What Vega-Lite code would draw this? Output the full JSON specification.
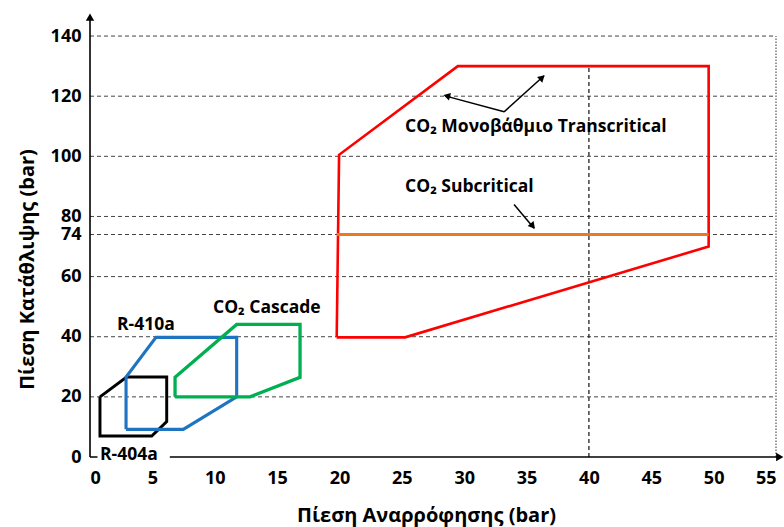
{
  "$schema": "https://vega.github.io/schema/vega-lite/v6.json",
  "width": 686,
  "height": 445,
  "autosize": {"type": "none"},
  "padding": {"left": 90, "top": 12, "right": 8, "bottom": 70},
  "background": "white",
  "config": {"view": {"stroke": null}, "font": "Open Sans"},
  "layer": [
    {
      "data": {"values": [{"y": 20}, {"y": 40}, {"y": 60}, {"y": 74}, {"y": 80}, {"y": 100}, {"y": 120}, {"y": 140}]},
      "mark": {"type": "rule", "strokeDash": [4, 3], "color": "#444", "strokeWidth": 1},
      "encoding": {
        "y": {
          "field": "y", "type": "quantitative",
          "scale": {"domain": [0, 148], "nice": false, "zero": false},
          "axis": {
            "title": "Πίεση Κατάθλιψης (bar)",
            "values": [0, 20, 40, 60, 74, 80, 100, 120, 140],
            "domain": false, "ticks": false, "grid": false,
            "labelFont": "Open Sans", "labelFontWeight": "bold", "labelFontSize": 18, "labelColor": "#000",
            "labelPadding": 9,
            "titleFont": "Open Sans", "titleFontWeight": "bold", "titleFontSize": 20, "titleColor": "#000",
            "titleBaseline": "middle", "titleX": -63, "titleY": 257
          }
        },
        "x": {
          "datum": 0, "type": "quantitative",
          "scale": {"domain": [0, 55], "nice": false, "zero": false},
          "axis": {
            "title": "Πίεση Αναρρόφησης (bar)",
            "values": [0, 5, 10, 15, 20, 25, 30, 35, 40, 45, 50, 55],
            "domain": false, "ticks": false, "grid": false,
            "labelFont": "Open Sans", "labelFontWeight": "bold", "labelFontSize": 18, "labelColor": "#000",
            "labelPadding": 12,
            "titleFont": "Open Sans", "titleFontWeight": "bold", "titleFontSize": 20, "titleColor": "#000",
            "titleBaseline": "middle", "titleX": 336, "titleY": 58
          }
        },
        "x2": {"datum": 55}
      }
    },
    {
      "data": {"values": [{"x": 40, "y": 0, "y2": 130}]},
      "mark": {"type": "rule", "strokeDash": [4, 3], "color": "#222", "strokeWidth": 1.3},
      "encoding": {
        "x": {"field": "x", "type": "quantitative"},
        "y": {"field": "y", "type": "quantitative"},
        "y2": {"field": "y2"}
      }
    },
    {
      "data": {"values": [{"x": 55, "y": 0, "y2": 140}]},
      "mark": {"type": "rule", "strokeDash": [1.5, 1.5], "color": "#333", "strokeWidth": 1},
      "encoding": {
        "x": {"field": "x", "type": "quantitative"},
        "y": {"field": "y", "type": "quantitative"},
        "y2": {"field": "y2"}
      }
    },
    {
      "data": {"values": [
        {"series": "CO2 Transcritical", "order": 1, "x": 19.78, "y": 39.8},
        {"series": "CO2 Transcritical", "order": 2, "x": 25.26, "y": 39.8},
        {"series": "CO2 Transcritical", "order": 3, "x": 49.6, "y": 70},
        {"series": "CO2 Transcritical", "order": 4, "x": 49.6, "y": 130},
        {"series": "CO2 Transcritical", "order": 5, "x": 29.49, "y": 130},
        {"series": "CO2 Transcritical", "order": 6, "x": 19.97, "y": 100.5},
        {"series": "CO2 Transcritical", "order": 7, "x": 19.78, "y": 39.8},
        {"series": "CO2 Subcritical", "order": 1, "x": 19.8, "y": 74},
        {"series": "CO2 Subcritical", "order": 2, "x": 49.6, "y": 74},
        {"series": "R-404a", "order": 1, "x": 0.8, "y": 20},
        {"series": "R-404a", "order": 2, "x": 0.8, "y": 7},
        {"series": "R-404a", "order": 3, "x": 4.95, "y": 7},
        {"series": "R-404a", "order": 4, "x": 6.15, "y": 11.8},
        {"series": "R-404a", "order": 5, "x": 6.15, "y": 26.6},
        {"series": "R-404a", "order": 6, "x": 2.94, "y": 26.6},
        {"series": "R-404a", "order": 7, "x": 0.8, "y": 20},
        {"series": "R-410a", "order": 1, "x": 2.89, "y": 9.2},
        {"series": "R-410a", "order": 2, "x": 7.48, "y": 9.2},
        {"series": "R-410a", "order": 3, "x": 11.76, "y": 20},
        {"series": "R-410a", "order": 4, "x": 11.76, "y": 39.8},
        {"series": "R-410a", "order": 5, "x": 5.29, "y": 39.8},
        {"series": "R-410a", "order": 6, "x": 2.89, "y": 26.6},
        {"series": "R-410a", "order": 7, "x": 2.89, "y": 9.2},
        {"series": "CO2 Cascade", "order": 1, "x": 6.82, "y": 20},
        {"series": "CO2 Cascade", "order": 2, "x": 12.83, "y": 20},
        {"series": "CO2 Cascade", "order": 3, "x": 16.84, "y": 26.5},
        {"series": "CO2 Cascade", "order": 4, "x": 16.84, "y": 44.1},
        {"series": "CO2 Cascade", "order": 5, "x": 11.76, "y": 44.1},
        {"series": "CO2 Cascade", "order": 6, "x": 6.82, "y": 26.5},
        {"series": "CO2 Cascade", "order": 7, "x": 6.82, "y": 20}
      ]},
      "mark": {"type": "line", "strokeJoin": "miter"},
      "encoding": {
        "x": {"field": "x", "type": "quantitative"},
        "y": {"field": "y", "type": "quantitative"},
        "order": {"field": "order", "type": "quantitative"},
        "color": {
          "field": "series", "type": "nominal", "legend": null,
          "scale": {
            "domain": ["CO2 Transcritical", "CO2 Subcritical", "R-404a", "R-410a", "CO2 Cascade"],
            "range": ["#FF0000", "#E97A24", "#000000", "#1F74C2", "#00B050"]
          }
        },
        "strokeWidth": {
          "field": "series", "type": "nominal", "legend": null,
          "scale": {
            "domain": ["CO2 Transcritical", "CO2 Subcritical", "R-404a", "R-410a", "CO2 Cascade"],
            "range": [2.6, 3.3, 2.6, 3.1, 2.6]
          }
        }
      }
    },
    {
      "data": {"values": [
        {"label": "R-410a", "x": 2.17, "y": 43.9},
        {"label": "CO₂ Cascade", "x": 9.86, "y": 49.6},
        {"label": "CO₂ Μονοβάθμιο Transcritical", "x": 25.26, "y": 109.7},
        {"label": "CO₂ Subcritical", "x": 25.26, "y": 89.8}
      ]},
      "mark": {"type": "text", "align": "left", "baseline": "middle", "font": "Open Sans", "fontWeight": "bold", "fontSize": 17.5, "color": "#000"},
      "encoding": {
        "x": {"field": "x", "type": "quantitative"},
        "y": {"field": "y", "type": "quantitative"},
        "text": {"field": "label"}
      }
    },
    {
      "data": {"values": [
        {"x": 33.2, "y": 114.8, "x2": 28.47, "y2": 120.1},
        {"x": 33.2, "y": 114.8, "x2": 36.4, "y2": 126.8},
        {"x": 34.0, "y": 84.0, "x2": 35.6, "y2": 76.1}
      ]},
      "mark": {"type": "rule", "color": "#000", "strokeWidth": 1.5},
      "encoding": {
        "x": {"field": "x", "type": "quantitative"},
        "y": {"field": "y", "type": "quantitative"},
        "x2": {"field": "x2"},
        "y2": {"field": "y2"}
      }
    },
    {
      "data": {"values": [{"x": 28.6, "y": 120.1}]},
      "mark": {"type": "point", "shape": "triangle-up", "filled": true, "color": "#000", "size": 60, "angle": 285, "opacity": 1},
      "encoding": {"x": {"field": "x", "type": "quantitative"}, "y": {"field": "y", "type": "quantitative"}}
    },
    {
      "data": {"values": [{"x": 36.25, "y": 126.2}]},
      "mark": {"type": "point", "shape": "triangle-up", "filled": true, "color": "#000", "size": 60, "angle": 48, "opacity": 1},
      "encoding": {"x": {"field": "x", "type": "quantitative"}, "y": {"field": "y", "type": "quantitative"}}
    },
    {
      "data": {"values": [{"x": 35.5, "y": 76.8}]},
      "mark": {"type": "point", "shape": "triangle-up", "filled": true, "color": "#000", "size": 60, "angle": 140, "opacity": 1},
      "encoding": {"x": {"field": "x", "type": "quantitative"}, "y": {"field": "y", "type": "quantitative"}}
    },
    {
      "data": {"values": [{"x": 0, "y": 0, "x2": 55.3, "y2": 0}, {"x": 0, "y": 0, "x2": 0, "y2": 146}]},
      "mark": {"type": "rule", "color": "#000", "strokeWidth": 1.6},
      "encoding": {
        "x": {"field": "x", "type": "quantitative"},
        "y": {"field": "y", "type": "quantitative"},
        "x2": {"field": "x2"},
        "y2": {"field": "y2"}
      }
    },
    {
      "data": {"values": [{"x": 0, "y": 146.3}]},
      "mark": {"type": "point", "shape": "triangle-up", "filled": true, "color": "#000", "size": 70, "opacity": 1},
      "encoding": {"x": {"field": "x", "type": "quantitative"}, "y": {"field": "y", "type": "quantitative"}}
    },
    {
      "data": {"values": [{"x": 55.3, "y": 0}]},
      "mark": {"type": "point", "shape": "triangle-right", "filled": true, "color": "#000", "size": 70, "opacity": 1},
      "encoding": {"x": {"field": "x", "type": "quantitative"}, "y": {"field": "y", "type": "quantitative"}}
    },
    {
      "data": {"values": [{"x": 0.6, "x2": 6.4, "y": -3, "y2": 3}]},
      "mark": {"type": "rect", "color": "white"},
      "encoding": {
        "x": {"field": "x", "type": "quantitative"},
        "x2": {"field": "x2"},
        "y": {"field": "y", "type": "quantitative"},
        "y2": {"field": "y2"}
      }
    },
    {
      "data": {"values": [{"label": "R-404a", "x": 0.8, "y": 0.5}]},
      "mark": {"type": "text", "align": "left", "baseline": "middle", "font": "Open Sans", "fontWeight": "bold", "fontSize": 17.5, "color": "#000"},
      "encoding": {
        "x": {"field": "x", "type": "quantitative"},
        "y": {"field": "y", "type": "quantitative"},
        "text": {"field": "label"}
      }
    }
  ]
}
